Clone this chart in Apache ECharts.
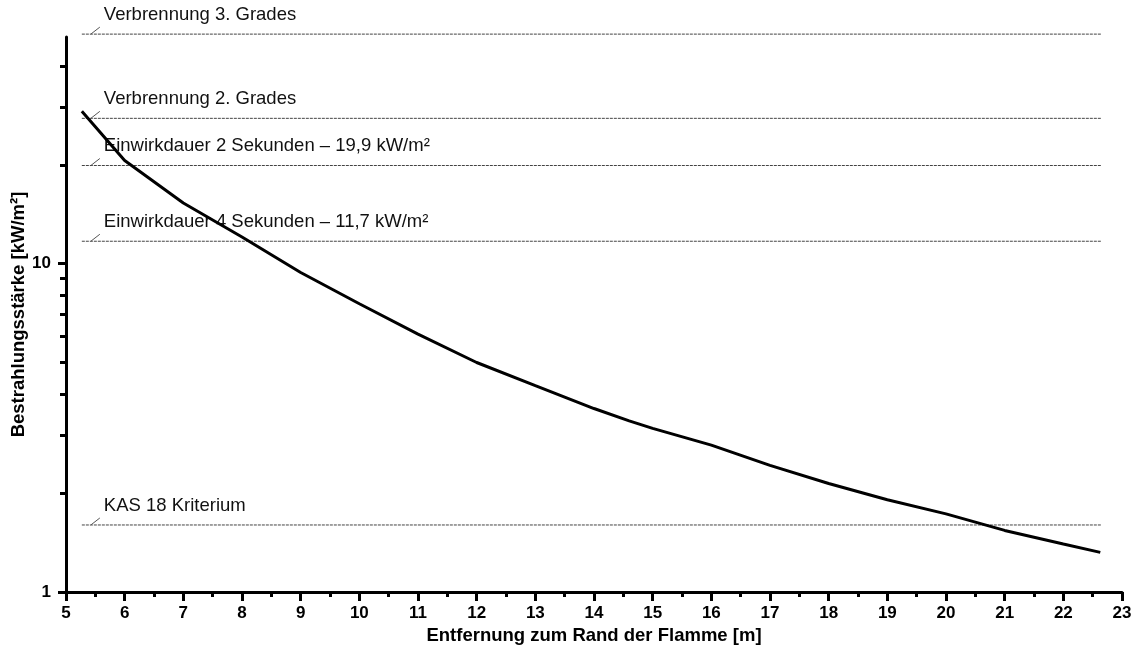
<!DOCTYPE html>
<html>
<head>
<meta charset="utf-8">
<script src="https://cdn.jsdelivr.net/npm/echarts@6/dist/echarts.min.js"></script>
<style>html,body{margin:0;padding:0;background:#fff;}#c{width:1139px;height:648px;}</style>
</head>
<body>
<div id="c"></div>
<script>
// Curve: distance [m] vs irradiance [kW/m²]
const distances = [5.27, 6.0, 7.0, 8.0, 9.0, 10.0, 11.0, 12.0, 13.0, 14.0, 14.6, 15.0, 16.0, 17.0, 18.0, 19.0, 20.0, 21.0, 22.0, 22.63];
const irradiance = [29.1, 20.6, 15.3, 12.06, 9.4, 7.55, 6.1, 5.0, 4.25, 3.62, 3.32, 3.15, 2.8, 2.43, 2.14, 1.91, 1.73, 1.54, 1.4, 1.32];

// Threshold lines
const thresholdNames = ['Verbrennung 3. Grades', 'Verbrennung 2. Grades', 'Einwirkdauer 2 Sekunden – 19,9 kW/m²', 'Einwirkdauer 4 Sekunden – 11,7 kW/m²', 'KAS 18 Kriterium'];
const thresholdValues = [50, 27.7, 19.9, 11.7, 1.6];
const thresholdStart = 5.27;
const thresholdEnd = 22.64;

// Axis ticks
const yMajorTicks = [1, 10];
const yMinorTicks = [2, 3, 4, 5, 6, 7, 8, 9, 20, 30, 40];

const FONT = "'Liberation Sans', Arial, sans-serif";

const chart = echarts.init(document.getElementById('c'), null, {renderer: 'canvas'});

const thresholdSeries = thresholdValues.map((v, i) => ({
  type: 'line',
  name: thresholdNames[i],
  data: [[thresholdStart, v], [thresholdEnd, v]],
  symbol: 'none',
  clip: false,
  silent: true,
  z: 2,
  lineStyle: {color: '#444', width: 1, type: [3, 1]}
}));

const labelSeries = {
  type: 'custom',
  clip: false,
  silent: true,
  z: 3,
  data: thresholdValues.map(v => [thresholdStart, v]),
  renderItem: function (params, api) {
    const p = api.coord([api.value(0), api.value(1)]);
    return {
      type: 'group',
      children: [
        {type: 'line', shape: {x1: p[0] + 9, y1: p[1], x2: p[0] + 18, y2: p[1] - 7},
         style: {stroke: '#555', lineWidth: 1}},
        {type: 'text', x: p[0] + 22, y: p[1] - 19.5,
         style: {text: thresholdNames[params.dataIndex], fill: '#111', font: '18.5px ' + FONT,
                 textAlign: 'left', textVerticalAlign: 'middle'}}
      ]
    };
  }
};

const option = {
  animation: false,
  backgroundColor: '#fff',
  grid: {left: 66, right: 17, top: 37, bottom: 56, outerBoundsMode: 'none', containLabel: false},
  xAxis: {
    type: 'value', min: 5, max: 23, interval: 1,
    name: 'Entfernung zum Rand der Flamme [m]',
    nameLocation: 'middle', nameGap: 33,
    nameTextStyle: {fontFamily: FONT, fontWeight: 'bold', fontSize: 18.5, color: '#000'},
    axisLine: {show: true, onZero: false, lineStyle: {color: '#000', width: 3}},
    axisTick: {show: true, inside: false, length: 9, lineStyle: {color: '#000', width: 3}},
    minorTick: {show: true, splitNumber: 2, length: 5, lineStyle: {color: '#000', width: 3}},
    axisLabel: {fontFamily: FONT, fontWeight: 'bold', fontSize: 17, color: '#000', margin: 13},
    splitLine: {show: false}, minorSplitLine: {show: false}
  },
  yAxis: [{
    type: 'log', logBase: 10, min: 1, max: 49,
    name: 'Bestrahlungsstärke [kW/m²]',
    nameLocation: 'middle', nameGap: 38, nameRotate: 90, nameMoveOverlap: false,
    nameTextStyle: {fontFamily: FONT, fontWeight: 'bold', fontSize: 18.5, color: '#000'},
    axisLine: {show: true, onZero: false, lineStyle: {color: '#000', width: 3}},
    axisTick: {show: true, length: 8, customValues: yMajorTicks, lineStyle: {color: '#000', width: 3}},
    axisLabel: {fontFamily: FONT, fontWeight: 'bold', fontSize: 17, color: '#000', margin: 15, customValues: yMajorTicks},
    splitLine: {show: false}
  }, {
    type: 'log', logBase: 10, min: 1, max: 49, position: 'left',
    axisLine: {show: false},
    axisTick: {show: true, length: 6, customValues: yMinorTicks, lineStyle: {color: '#000', width: 3}},
    axisLabel: {show: false},
    splitLine: {show: false}
  }],
  series: [
    ...thresholdSeries,
    labelSeries,
    {
      type: 'line',
      name: 'Bestrahlungsstärke',
      data: distances.map((d, i) => [d, irradiance[i]]),
      symbol: 'none',
      z: 5,
      lineStyle: {color: '#000', width: 3}
    }
  ]
};
chart.setOption(option);
</script>
</body>
</html>
